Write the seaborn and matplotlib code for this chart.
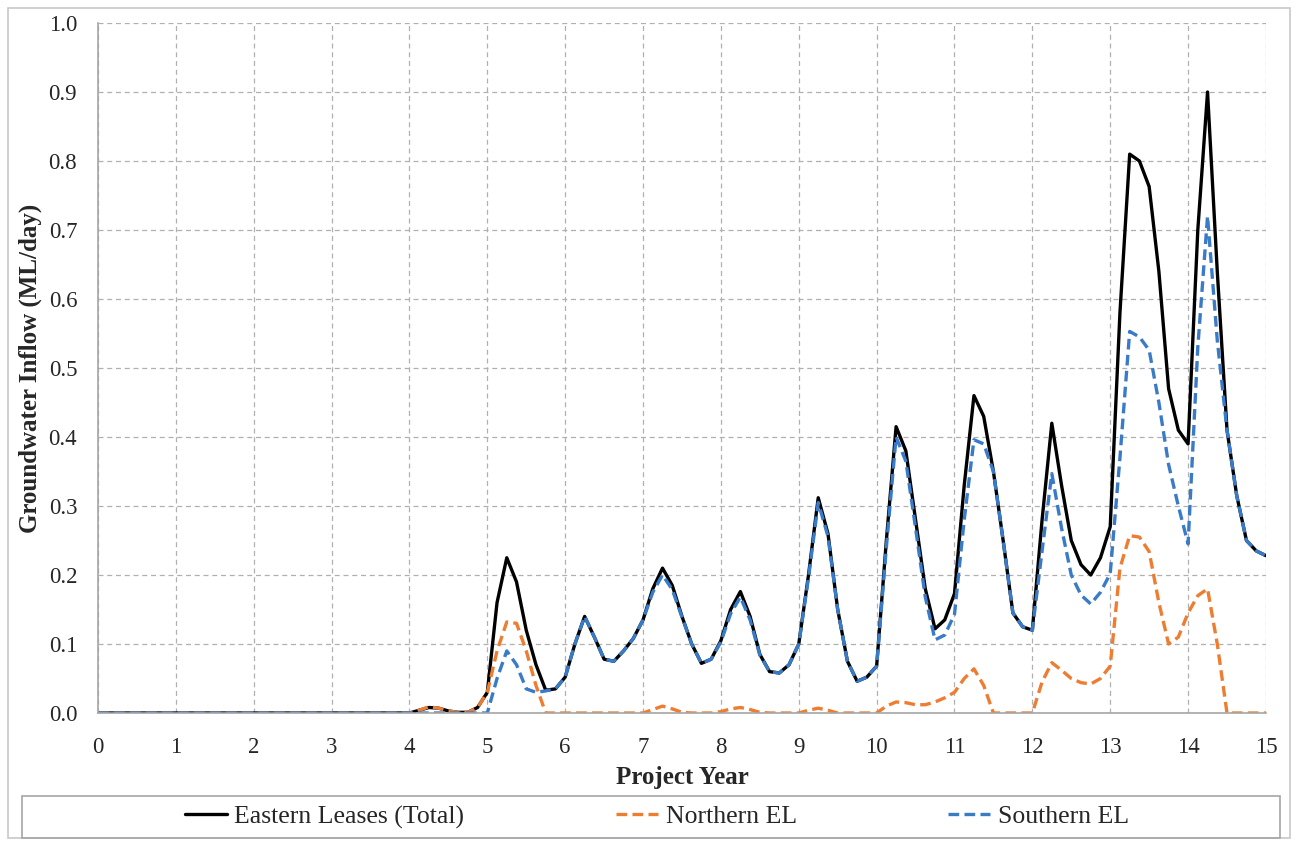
"""Groundwater inflow to the Eastern Leases by project year."""

import matplotlib.pyplot as plt
import numpy as np
import pandas as pd
import seaborn as sns
from matplotlib.lines import Line2D
from matplotlib.patches import Rectangle

# project years: yearly up to 4, then every 1/8 year
YEARS = [0, 1, 2, 3] + list(np.arange(4, 15.001, 0.125))

EASTERN_TOTAL = [0, 0, 0, 0,
    0.0, 0.004, 0.008, 0.007, 0.003, 0.001, 0.001, 0.008,
    0.03, 0.16, 0.225, 0.19, 0.12, 0.07, 0.033, 0.035,
    0.052, 0.1, 0.14, 0.11, 0.078, 0.075, 0.09, 0.108,
    0.135, 0.18, 0.21, 0.185, 0.14, 0.1, 0.072, 0.078,
    0.105, 0.15, 0.176, 0.14, 0.085, 0.06, 0.058, 0.07,
    0.1, 0.2, 0.312, 0.26, 0.15, 0.075, 0.046, 0.052,
    0.068, 0.25, 0.415, 0.38, 0.28, 0.18, 0.122, 0.135,
    0.173, 0.33, 0.46, 0.43, 0.35, 0.25, 0.145, 0.125,
    0.12, 0.28, 0.42, 0.33, 0.25, 0.215, 0.2, 0.225,
    0.27, 0.58, 0.81, 0.8, 0.763, 0.64, 0.47, 0.41,
    0.39, 0.7, 0.9, 0.64, 0.41, 0.315, 0.25, 0.235,
    0.228]

NORTHERN_EL = [0, 0, 0, 0,
    0.0, 0.004, 0.009, 0.007, 0.003, 0.001, 0.001, 0.008,
    0.03, 0.09, 0.132, 0.13, 0.09, 0.04, 0.0, 0.0,
    0.0, 0.0, 0.0, 0.0, 0.0, 0.0, 0.0, 0.0,
    0.0, 0.005, 0.01, 0.006, 0.001, 0.0, 0.0, 0.0,
    0.002, 0.006, 0.008, 0.005, 0.001, 0.0, 0.0, 0.0,
    0.0, 0.004, 0.007, 0.004, 0.0, 0.0, 0.0, 0.0,
    0.0, 0.01, 0.016, 0.015, 0.012, 0.012, 0.016, 0.022,
    0.03, 0.05, 0.064, 0.04, 0.0, 0.0, 0.0, 0.0,
    0.0, 0.045, 0.073, 0.062, 0.05, 0.044, 0.042, 0.05,
    0.068, 0.21, 0.257, 0.255, 0.234, 0.16, 0.1, 0.11,
    0.145, 0.17, 0.18, 0.1, 0.0, 0.0, 0.0, 0.0,
    0.0]

SOUTHERN_EL = [0, 0, 0, 0,
    0.0, 0.0, 0.0, 0.0, 0.0, 0.0, 0.0, 0.0,
    0.0, 0.05, 0.09, 0.07, 0.035, 0.03, 0.032, 0.035,
    0.052, 0.1, 0.14, 0.11, 0.078, 0.075, 0.09, 0.108,
    0.135, 0.175, 0.2, 0.179, 0.139, 0.1, 0.072, 0.078,
    0.103, 0.144, 0.168, 0.135, 0.084, 0.06, 0.058, 0.07,
    0.1, 0.196, 0.305, 0.256, 0.15, 0.075, 0.046, 0.052,
    0.068, 0.24, 0.4, 0.365, 0.268, 0.168, 0.106, 0.113,
    0.143, 0.28, 0.396, 0.39, 0.35, 0.25, 0.145, 0.125,
    0.12, 0.235, 0.347, 0.268, 0.2, 0.171, 0.158, 0.175,
    0.202, 0.37, 0.553, 0.545, 0.526, 0.45, 0.36, 0.3,
    0.245, 0.53, 0.72, 0.54, 0.41, 0.315, 0.25, 0.235,
    0.228]

LABELS = ["Eastern Leases (Total)", "Northern EL", "Southern EL"]
COLORS = ["#000000", "#ED7D31", "#3A7BC8"]
DASH = (0, (3.2, 1.6))

sns.set_theme(style="white")
plt.rcParams["font.family"] = ["Liberation Serif", "DejaVu Serif"]

df = pd.DataFrame({
    "year": YEARS,
    LABELS[0]: EASTERN_TOTAL,
    LABELS[1]: NORTHERN_EL,
    LABELS[2]: SOUTHERN_EL,
})

fig = plt.figure(figsize=(12.98, 8.43), dpi=100)
ax = fig.add_axes([0.0755, 0.1542, 0.8998, 0.8185])

sns.lineplot(data=df, x="year", y=LABELS[0], ax=ax, color=COLORS[0], lw=2.4)
sns.lineplot(data=df, x="year", y=LABELS[1], ax=ax, color=COLORS[1], lw=2.4, linestyle=DASH)
sns.lineplot(data=df, x="year", y=LABELS[2], ax=ax, color=COLORS[2], lw=2.4, linestyle=DASH)

ax.set_xlim(0, 15)
ax.set_ylim(0, 1.0)
ax.set_xticks(range(0, 16))
ax.set_yticks(np.arange(0, 1.01, 0.1))
ax.set_yticklabels([f"{v:.1f}" for v in np.arange(0, 1.01, 0.1)])
ax.tick_params(labelsize=16.5, length=0)
ax.tick_params(axis="y", pad=15)
ax.tick_params(axis="x", pad=17)
ax.grid(True, color="#b0b0b0", linestyle=(0, (4, 3)), linewidth=0.9)
for side in ["top", "right"]:
    ax.spines[side].set_visible(False)
for side in ["left", "bottom"]:
    ax.spines[side].set_color("#a6a6a6")
    ax.spines[side].set_linewidth(1.2)

ax.set_xlabel("Project Year", fontsize=18, fontweight="bold", labelpad=6)
ax.set_ylabel("Groundwater Inflow (ML/day)", fontsize=18, fontweight="bold", labelpad=5)

# outer chart border and legend frame
fig.patches.append(Rectangle((0.006, 0.006), 0.988, 0.985, transform=fig.transFigure,
                             fill=False, edgecolor="#c8c8c8", lw=1.2))
fig.patches.append(Rectangle((22 / 1298, 1 - 838 / 843), 1258 / 1298, 42 / 843,
                             transform=fig.transFigure, fill=False,
                             edgecolor="#a6a6a6", lw=1.2))

handles = [
    Line2D([], [], color=COLORS[0], lw=2.4),
    Line2D([], [], color=COLORS[1], lw=2.4, linestyle=DASH),
    Line2D([], [], color=COLORS[2], lw=2.4, linestyle=DASH),
]
fig.legend(handles, LABELS, loc="center", bbox_to_anchor=(657 / 1298, 1 - 817 / 843),
           ncol=3, frameon=False, fontsize=18.5, handlelength=1.63,
           handletextpad=0.3, columnspacing=5.9)

fig.savefig("out.png", dpi=100)
